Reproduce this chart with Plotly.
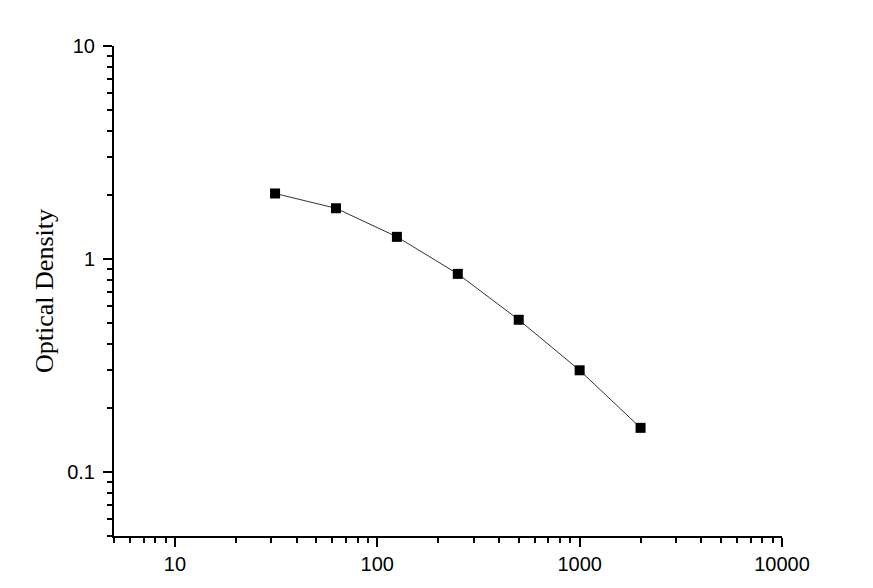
import plotly.graph_objects as go

# standard curve points
concentration = [31.25, 62.5, 125, 250, 500, 1000, 2000]
optical_density = [2.03, 1.73, 1.27, 0.851, 0.518, 0.30, 0.161]

x_ticks = [10, 100, 1000, 10000]
y_ticks = [0.1, 1, 10]

fig = go.Figure()
fig.add_trace(go.Scatter(
    x=concentration,
    y=optical_density,
    mode="lines+markers",
    line=dict(color="#333333", width=1),
    marker=dict(symbol="square", size=10, color="black"),
    showlegend=False,
))

axis_style = dict(
    type="log",
    showline=True,
    linecolor="black",
    linewidth=2,
    ticks="outside",
    ticklen=9,
    tickwidth=2,
    tickcolor="black",
    showgrid=False,
    zeroline=False,
    mirror=False,
    tickfont=dict(family="Liberation Sans, Arial", size=20, color="black"),
    minor=dict(ticks="outside", ticklen=5, tickwidth=2, tickcolor="black", dtick="D1", showgrid=False),
)

fig.update_xaxes(
    **axis_style,
    range=[0.69897, 4],
    tickvals=x_ticks,
    ticktext=[str(v) for v in x_ticks],
)
fig.update_yaxes(
    **axis_style,
    range=[-1.30103, 1],
    tickvals=y_ticks,
    ticktext=["0.1", "1", "10"],
    ticklabelstandoff=4,
    title=dict(text="Optical Density", font=dict(family="Liberation Serif, Times New Roman", size=26, color="black"), standoff=6),
)

# body margin of the page adds 8px, margins below account for it
fig.update_layout(
    width=873,
    height=588,
    margin=dict(l=106, r=99, t=38, b=60),
    paper_bgcolor="white",
    plot_bgcolor="white",
)

fig.write_html("out.html")
